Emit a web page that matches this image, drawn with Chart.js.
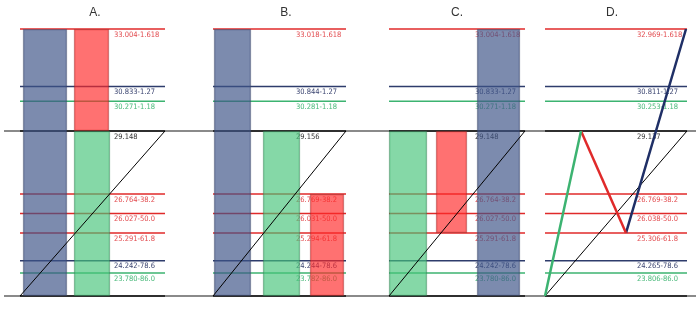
<!DOCTYPE html>
<html><head><meta charset="utf-8">
<script src="https://cdn.jsdelivr.net/npm/chart.js@4.4.1/dist/chart.umd.min.js"></script>
<style>html,body{margin:0;padding:0;background:#fff}#wrap{width:700px;height:310px;position:relative}</style>
</head><body><div id="wrap"><canvas id="c" width="700" height="310"></canvas></div>
<script>
// ---------- data ----------
const panelNames = ['A.', 'B.', 'C.', 'D.'];
const extRatios = [1.618, 1.27, 1.18];
const retrPercents = [38.2, 50.0, 61.8, 78.6, 86.0];
const valuesA = [33.004, 30.833, 30.271, 29.148, 26.764, 26.027, 25.291, 24.242, 23.780];
const valuesB = [33.018, 30.844, 30.281, 29.156, 26.769, 26.031, 25.294, 24.244, 23.782];
const valuesC = [33.004, 30.833, 30.271, 29.148, 26.764, 26.027, 25.291, 24.242, 23.780];
const valuesD = [32.969, 30.811, 30.253, 29.137, 26.769, 26.038, 25.306, 24.265, 23.806];
// moves (in fib ratio units, 0 = swing low, 1 = swing high) for panels A, B, C
const blueMove  = [[0, 1.618], [0, 1.618], [0, 1.618]];
const greenMove = [[0, 1], [0, 1], [0, 1]];
const redMove   = [[1, 1.618], [0, 0.618], [0.382, 1]];
// panel D swing path
const swingD = [0, 1, 0.382, 1.618];

// ---------- layout / style ----------
const layoutX = [
  {l: 20,  r: 165, lab: 114, title: 95,  blue: [23, 67],   red: [74, 109],  green: [74, 110]},
  {l: 213, r: 346, lab: 296, title: 286, blue: [214, 251], green: [263, 300], red: [310, 344]},
  {l: 389, r: 525, lab: 475, title: 457, green: [389, 427], red: [436, 467], blue: [477, 520]},
  {l: 545, r: 687, lab: 637, title: 612, swing: [545, 581, 626, 686]}
];
const COL = {
  red: '#e02a2a', navy: '#2e3c6c', green: '#3cb371', black: '#111111',
  redTxt: '#e24a4e', navyTxt: '#3a4470', greenTxt: '#46b878', blackTxt: '#333333'
};
const levelKinds = ['red', 'navy', 'green', 'black', 'red', 'red', 'red', 'navy', 'green'];
const allValues = [valuesA, valuesB, valuesC, valuesD];

const levelRatios = extRatios.concat([1]).concat(retrPercents.map(p => 1 - p / 100));
const levelTags = extRatios.map(r => String(r)).concat(['']).concat(retrPercents.map(p => p.toFixed(1)));

const datasets = [];
// full-width gray guide lines at swing high and swing low
[1, 0].forEach(r => datasets.push({
  type: 'line', data: [{x: 4, y: r}, {x: 696, y: r}], borderColor: '#8a8a8a', borderWidth: 2,
  pointRadius: 0, clip: false, order: 5
}));
// level lines
layoutX.forEach(p => {
  levelRatios.concat([0]).forEach((r, k) => {
    const kind = k < levelKinds.length ? levelKinds[k] : 'black';
    datasets.push({
      type: 'line', data: [{x: p.l, y: r}, {x: p.r, y: r}], borderColor: COL[kind],
      borderWidth: kind === 'black' ? 1.5 : 1.5, pointRadius: 0, clip: false, order: 4
    });
  });
});
// bars
const barStyle = {
  blue:  {bg: 'rgba(62,84,136,0.68)',  bd: 'rgba(60,70,100,0.55)'},
  green: {bg: 'rgba(70,196,122,0.66)', bd: 'rgba(50,120,80,0.55)'},
  red:   {bg: 'rgba(255,40,40,0.66)',  bd: 'rgba(150,40,40,0.55)'}
};
const moves = {blue: blueMove, green: greenMove, red: redMove};
[0, 1, 2].forEach(i => {
  ['blue', 'green', 'red'].forEach(kind => {
    const span = layoutX[i][kind];
    datasets.push({
      type: 'bar', data: [{x: (span[0] + span[1]) / 2, y: moves[kind][i]}],
      barThickness: span[1] - span[0], grouped: false,
      backgroundColor: barStyle[kind].bg, borderColor: barStyle[kind].bd, borderWidth: 1,
      borderSkipped: false, order: 2
    });
  });
});
// diagonal reference lines
layoutX.forEach(p => datasets.push({
  type: 'line', data: [{x: p.l, y: 0}, {x: p.r, y: 1}], borderColor: '#000', borderWidth: 1,
  pointRadius: 0, clip: false, order: 1
}));
// panel D swing legs
const legColors = ['#3cb371', '#e02a2a', '#1f2f66'];
for (let j = 0; j < 3; j++) {
  const xs = layoutX[3].swing;
  datasets.push({
    type: 'line', data: [{x: xs[j], y: swingD[j]}, {x: xs[j + 1], y: swingD[j + 1]}],
    borderColor: legColors[j], borderWidth: 2.5, pointRadius: 0, clip: false, order: 0
  });
}

const textPlugin = {
  id: 'texts',
  beforeDatasetsDraw(chart) {
    const ctx = chart.ctx, xs = chart.scales.x, ys = chart.scales.y;
    ctx.save();
    ctx.font = '12px "Liberation Sans", Arial, sans-serif';
    ctx.fillStyle = '#333';
    ctx.textAlign = 'center';
    ctx.textBaseline = 'middle';
    layoutX.forEach((p, i) => ctx.fillText(panelNames[i], xs.getPixelForValue(p.title), 13));
    ctx.font = '7.5px "Liberation Sans Narrow", "DejaVu Sans Condensed", Arial, sans-serif';
    ctx.textAlign = 'left';
    ctx.textBaseline = 'top';
    layoutX.forEach((p, i) => {
      const vals = allValues[i];
      levelRatios.forEach((r, k) => {
        const kind = levelKinds[k];
        ctx.fillStyle = COL[kind + 'Txt'];
        const txt = vals[k].toFixed(3) + (levelTags[k] ? '-' + levelTags[k] : '');
        ctx.fillText(txt, xs.getPixelForValue(p.lab), ys.getPixelForValue(r) + 2);
      });
    });
    ctx.restore();
  }
};

new Chart(document.getElementById('c'), {
  type: 'scatter',
  data: {datasets},
  options: {
    responsive: false, animation: false, devicePixelRatio: 1,
    layout: {padding: {top: 29, bottom: 14, left: 0, right: 0}},
    plugins: {legend: {display: false}, tooltip: {enabled: false}},
    scales: {
      x: {type: 'linear', min: 0, max: 700, display: false, offset: false},
      y: {type: 'linear', min: 0, max: 1.618, display: false}
    }
  },
  plugins: [textPlugin]
});
</script></body></html>
